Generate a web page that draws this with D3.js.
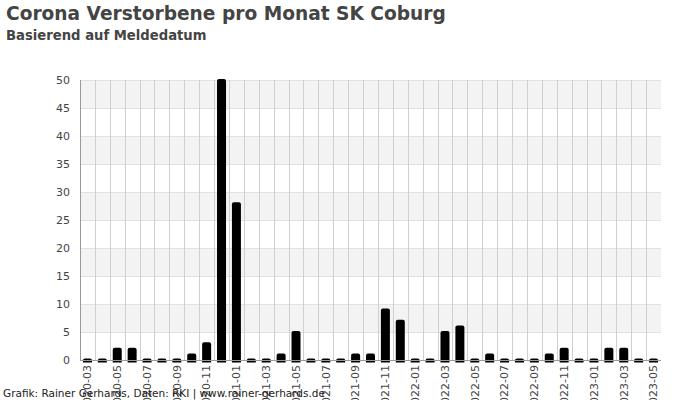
<!DOCTYPE html>
<html><head><meta charset="utf-8">
<script src="https://cdn.jsdelivr.net/npm/d3@7"></script>
<style>body{margin:0;background:#fff;}svg{display:block;font-family:"DejaVu Sans",sans-serif;}</style>
</head><body>
<svg id="c" width="700" height="400"></svg>
<script>
const months = ["2020-03","2020-04","2020-05","2020-06","2020-07","2020-08","2020-09","2020-10","2020-11","2020-12",
"2021-01","2021-02","2021-03","2021-04","2021-05","2021-06","2021-07","2021-08","2021-09","2021-10","2021-11","2021-12",
"2022-01","2022-02","2022-03","2022-04","2022-05","2022-06","2022-07","2022-08","2022-09","2022-10","2022-11","2022-12",
"2023-01","2023-02","2023-03","2023-04","2023-05"];
const deaths = [0,0,2,2,0,0,0,1,3,50,
28,0,0,1,5,0,0,0,1,1,9,7,
0,0,5,6,0,1,0,0,0,1,2,0,
0,2,2,0,0];
const yTicks = [0,5,10,15,20,25,30,35,40,45,50];
const title = "Corona Verstorbene pro Monat SK Coburg";
const subtitle = "Basierend auf Meldedatum";
const credit = "Grafik: Rainer Gerhards, Daten: RKI | www.rainer-gerhards.de";

const svg = d3.select("#c");
const L = 80, R = 661, T = 80, B = 360;
const x = d3.scaleBand().domain(months).range([L, R]).paddingInner(0).paddingOuter(0);
const y = d3.scaleLinear().domain([0, 50]).range([B, T]);

// alternating bands
const bands = [];
for (let i = 0; i < yTicks.length - 1; i++) bands.push([yTicks[i], yTicks[i+1], i]);
svg.append("g").selectAll("rect").data(bands.filter(d => d[2] % 2 === 1)).join("rect")
  .attr("x", L).attr("width", R - L)
  .attr("y", d => y(d[1])).attr("height", d => y(d[0]) - y(d[1]))
  .attr("fill", "#f3f3f3");

// horizontal grid
svg.append("g").selectAll("line").data(yTicks.slice(1)).join("line")
  .attr("x1", L).attr("x2", R).attr("y1", d => y(d)+0.5).attr("y2", d => y(d)+0.5)
  .attr("stroke", "#e2e2e2").attr("stroke-width", 1);

// vertical grid at band boundaries
svg.append("g").selectAll("line").data(months.slice(1)).join("line")
  .attr("x1", d => Math.round(x(d))+0.5).attr("x2", d => Math.round(x(d))+0.5)
  .attr("y1", T).attr("y2", B)
  .attr("stroke", "#cfcfcf").attr("stroke-width", 1);

// bars
const bw = 9;
svg.append("g").selectAll("path").data(months.map((m,i)=>({m, v: deaths[i]}))).join("path")
  .attr("d", d => {
    const cx = x(d.m) + x.bandwidth()/2;
    const x0 = cx - bw/2, x1 = cx + bw/2;
    const top = Math.min(y(d.v) - 1, B - 1.5), bot = B + 2.5;
    const r = Math.min(2, (bot-top)/2);
    return `M${x0},${bot}L${x0},${top+r}Q${x0},${top} ${x0+r},${top}L${x1-r},${top}Q${x1},${top} ${x1},${top+r}L${x1},${bot}Z`;
  })
  .attr("fill", "#000");

// axes lines
svg.append("line").attr("x1", L+0.5).attr("x2", L+0.5).attr("y1", T).attr("y2", B)
  .attr("stroke", "#999");
svg.append("line").attr("x1", L).attr("x2", R).attr("y1", B+0.5).attr("y2", B+0.5)
  .attr("stroke", "#999");

// y labels
const ya = d3.axisLeft(y).tickValues(yTicks).tickSize(0).tickPadding(10);
const gy = svg.append("g").attr("transform", `translate(${L},0)`).call(ya);
gy.select(".domain").remove();
gy.selectAll("text").attr("font-size", 11).attr("fill", "#444").attr("font-family", "DejaVu Sans, sans-serif");

// x labels
const xa = d3.axisBottom(x).tickValues(months.filter((m,i)=>i%2===0)).tickSize(0);
const gx = svg.append("g").attr("transform", `translate(0,${B})`).call(xa);
gx.select(".domain").remove();
gx.selectAll("text")
  .attr("font-size", 11).attr("fill", "#444").attr("font-family", "DejaVu Sans, sans-serif")
  .attr("text-anchor", "end").attr("dy", "0.35em").attr("dx", 0)
  .attr("transform", "translate(0,5) rotate(-90)")
  .attr("x", 0).attr("y", 0);

// titles
svg.append("text").attr("x", 6).attr("y", 20).text(title)
  .attr("font-size", 18.6).attr("font-weight", "bold").attr("fill", "#444");
svg.append("text").attr("x", 6).attr("y", 40).text(subtitle)
  .attr("font-size", 13.2).attr("font-weight", "bold").attr("fill", "#444");
svg.append("text").attr("x", 3).attr("y", 397).text(credit)
  .attr("font-size", 10.5).attr("fill", "#222");
</script>
</body></html>
